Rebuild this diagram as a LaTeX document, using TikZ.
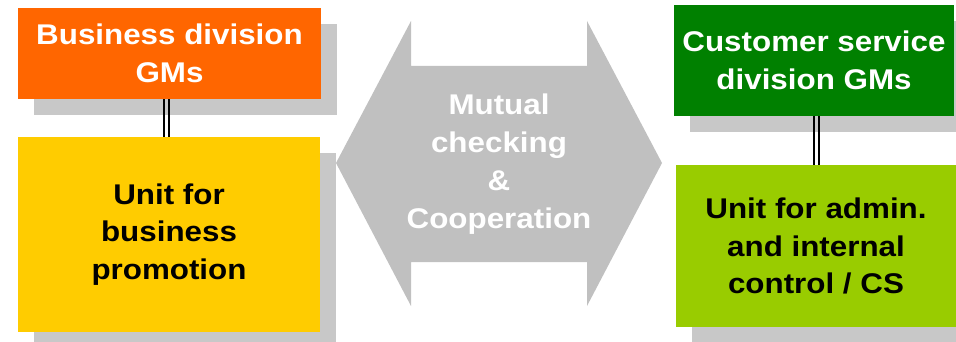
\documentclass[tikz,border=0pt]{standalone}
\usepackage{fontspec}
\setmainfont{Liberation Sans}[FakeStretch=1.1]
\usetikzlibrary{shadows}

\definecolor{bizorange}{RGB}{255,102,0}
\definecolor{bizyellow}{RGB}{255,204,0}
\definecolor{csgreen}{RGB}{0,128,0}
\definecolor{cslime}{RGB}{153,204,0}
\definecolor{arrowgray}{RGB}{192,192,192}
\definecolor{shadowgray}{RGB}{200,200,200}

\tikzset{
  unitbox/.style={rectangle, inner sep=0pt, align=center,
    font=\bfseries\fontsize{28.5}{37.5}\selectfont,
    drop shadow={shadow xshift=16pt, shadow yshift=-16pt, fill=shadowgray, opacity=1}},
  tie/.style={draw=black, line width=2pt}
}

\begin{document}
\begin{tikzpicture}[x=1pt,y=-1pt]
\useasboundingbox (0,0) rectangle (956,342);

% two-headed arrow in the middle
\fill[arrowgray] (336,163) -- (411,21) -- (411,66) -- (587,66) -- (587,21)
  -- (662,163) -- (587,306) -- (587,262) -- (411,262) -- (411,306) -- cycle;
\node[align=center, text=white, font=\bfseries\fontsize{28.5}{38}\selectfont] (mutual) at (499,164)
  {Mutual\\checking\\\&\\Cooperation};

% business side
\node[unitbox, fill=bizorange, text=white, minimum width=303pt, minimum height=91pt] (gmb) at (169.5,53.5)
  {Business division\\GMs};
\node[unitbox, fill=bizyellow, minimum width=302pt, minimum height=195pt] (unitb) at (169,234.5)
  {Unit for\\business\\promotion};

% customer service side
\node[unitbox, fill=csgreen, text=white, minimum width=280pt, minimum height=111pt] (gmc) at (814,60.5)
  {Customer service\\division GMs};
\node[unitbox, fill=cslime, minimum width=280pt, minimum height=162pt] (unitc) at (816,246)
  {Unit for admin.\\and internal\\control / CS};

% double ties between GMs and units
\foreach \dx in {-5.5,-0.5}
  \draw[tie] ([xshift=\dx pt]gmb.south) -- ([xshift=\dx pt]gmb.south |- unitb.north);
\foreach \dx in {0,5}
  \draw[tie] ([xshift=\dx pt]gmc.south) -- ([xshift=\dx pt]gmc.south |- unitc.north);

\end{tikzpicture}
\end{document}
